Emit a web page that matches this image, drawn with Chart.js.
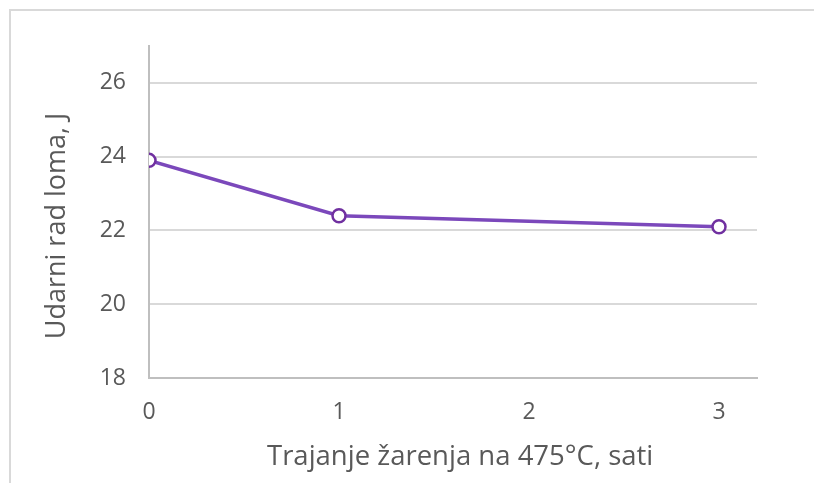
<!DOCTYPE html>
<html>
<head>
<meta charset="utf-8">
<script src="https://cdn.jsdelivr.net/npm/chart.js@4"></script>
<style>
  html, body { margin: 0; padding: 0; background: #ffffff; }
  #wrap { position: relative; width: 814px; height: 483px; overflow: hidden; }
  #frame { position: absolute; left: 9px; top: 9px; width: 830px; height: 500px; border: 2px solid #d9d9d9; box-sizing: border-box; }
  canvas { position: absolute; left: 0; top: 0; }
</style>
</head>
<body>
<div id="wrap">
  <div id="frame"></div>
  <canvas id="c" width="814" height="483"></canvas>
</div>
<script>
const hours = [0, 1, 3];
const impactEnergy = [23.9, 22.4, 22.1];
const xTitle = 'Trajanje žarenja na 475°C, sati';
const yTitle = 'Udarni rad loma, J';

const points = hours.map((h, i) => ({ x: h, y: impactEnergy[i] }));
const FONT = "'Open Sans', 'Noto Sans', sans-serif";

new Chart(document.getElementById('c'), {
  type: 'line',
  data: {
    datasets: [{
      data: points,
      borderColor: '#7b48bb',
      borderWidth: 3.5,
      pointRadius: 6.5,
      pointBorderWidth: 2.5,
      pointBackgroundColor: '#ffffff',
      pointBorderColor: '#7030a0',
      tension: 0,
      fill: false
    }]
  },
  options: {
    responsive: false,
    animation: false,
    plugins: { legend: { display: false }, tooltip: { enabled: false } },
    layout: { padding: { left: 37, top: 46, right: 57, bottom: 5 } },
    scales: {
      x: {
        type: 'linear',
        min: 0, max: 3.2,
        ticks: { stepSize: 1, includeBounds: false, color: '#595959', font: { family: FONT, size: 23 }, padding: 21 },
        grid: { display: false, drawTicks: false },
        border: { display: true, color: '#bfbfbf', width: 2 },
        title: { display: true, text: '\u00a0\u00a0' + xTitle, color: '#595959', font: { family: FONT, size: 27.5 }, padding: { top: 4, bottom: 4 } },
        afterFit: (s) => { s.height = 100; }
      },
      y: {
        min: 18, max: 27,
        ticks: { stepSize: 2, includeBounds: false, color: '#595959', font: { family: FONT, size: 23 }, padding: 23 },
        grid: { color: '#d9d9d9', lineWidth: 2, drawTicks: false },
        border: { display: true, color: '#bfbfbf', width: 2 },
        title: { display: true, text: yTitle + '\u00a0\u00a0\u00a0\u00a0', color: '#595959', font: { family: FONT, size: 27 }, padding: { top: 4, bottom: 4 } },
        afterFit: (s) => { s.width = 112; }
      }
    }
  }
});
</script>
</body>
</html>
